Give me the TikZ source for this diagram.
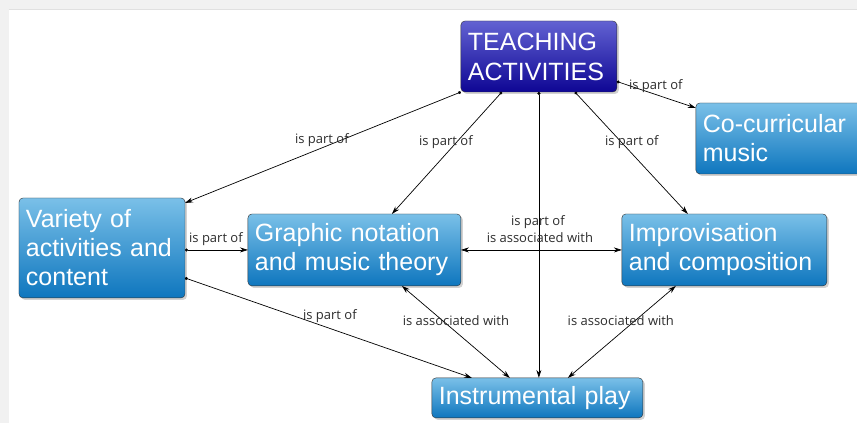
\documentclass[tikz,border=0pt]{standalone}
\usepackage{fontspec}
\setmainfont{Liberation Sans}
\newfontfamily\lblfont{Open Sans}
\usetikzlibrary{arrows.meta, shadows}

\definecolor{pagegray}{RGB}{241,241,241}
\definecolor{boxtop}{RGB}{122,192,232}
\definecolor{boxbot}{RGB}{14,118,190}
\definecolor{tatop}{RGB}{98,98,210}
\definecolor{tabot}{RGB}{14,6,148}
\definecolor{lblgray}{RGB}{45,45,45}

\begin{document}
\begin{tikzpicture}[
  x=1pt, y=-1pt,
  concept/.style={draw=black!80, rounded corners=4pt, top color=boxtop, bottom color=boxbot,
    text=white, align=left, inner xsep=7pt, inner ysep=2pt, outer sep=0pt,
    font=\fontsize{25}{29}\selectfont, drop shadow={shadow xshift=2pt, shadow yshift=-2pt, opacity=0.35}},
  topic/.style={concept, top color=tatop, bottom color=tabot, font=\fontsize{25}{30}\selectfont},
  lbl/.style={font=\lblfont\fontsize{13}{15}\selectfont, text=lblgray, inner sep=0pt},
  link/.style={{Circle[length=3pt]}-{Stealth[length=8pt, width=5pt]}, line width=0.7pt},
  assoc/.style={{Stealth[length=8pt, width=5pt]}-{Stealth[length=8pt, width=5pt]}, line width=0.7pt}
]

% Page
\fill[pagegray] (0,0) rectangle (857,423);
\fill[white] (9,9) rectangle (857,423);
\draw[black!12] (9,9) -- (857,9);
\useasboundingbox (0,0) rectangle (857,423);

% Concepts
\node[topic, minimum width=156pt, minimum height=71pt, text width=142pt] (ta) at (539,56.5) {TEACHING\\ACTIVITIES};
\node[concept, minimum width=170pt, minimum height=71pt, text width=156pt] (cc) at (781,138.5) {Co-curricular\\music};
\node[concept, minimum width=166pt, minimum height=100pt, text width=152pt] (var) at (102,248) {Variety of\\activities and\\content};
\node[concept, minimum width=213pt, minimum height=72pt, text width=199pt] (gn) at (354.5,250) {Graphic notation\\and music theory};
\node[concept, minimum width=205pt, minimum height=72pt, text width=191pt] (ic) at (724.5,250) {Improvisation\\and composition};
\node[concept, minimum width=211pt, minimum height=40pt, text width=197pt] (ip) at (537.5,398) {Instrumental play};

% Links from the top concept
\draw[link] (ta.south west) -- ([yshift=-5pt]var.north east);
\draw[link] ([xshift=-37pt]ta.south) -- ([xshift=37.5pt]gn.north);
\draw[link] (ta.south) -- (ta.south |- ip.north);
\draw[link] ([xshift=36pt]ta.south) -- ([xshift=-36.5pt]ic.north);
\draw[link] ([yshift=-25pt]ta.east) -- ([yshift=-5pt]cc.north west);

% Other links
\draw[link] (var.east |- gn.west) -- (gn.west);
\draw[assoc] (gn.east) -- (ic.west);
\draw[link] ([yshift=-30pt]var.east) -- ([xshift=-65.5pt]ip.north);
\draw[assoc] ([xshift=47.5pt]gn.south) -- ([xshift=-27.5pt]ip.north);
\draw[assoc] ([xshift=-48.5pt]ic.south) -- ([xshift=30.5pt]ip.north);

% Labels
\node[lbl] (l1) at (322,140) {is part of};
\node[lbl] (l2) at (446,142) {is part of};
\node[lbl] (l3) at (538,222) {is part of};
\node[lbl] (l4) at (632,142) {is part of};
\node[lbl] (l5) at (656,86) {is part of};
\node[lbl] (l6) at (216,239) {is part of};
\node[lbl] (l7) at (540,238) {is associated with};
\node[lbl] (l8) at (330,316) {is part of};
\node[lbl] (l9) at (456,321) {is associated with};
\node[lbl] (l10) at (621,321) {is associated with};

\end{tikzpicture}
\end{document}
